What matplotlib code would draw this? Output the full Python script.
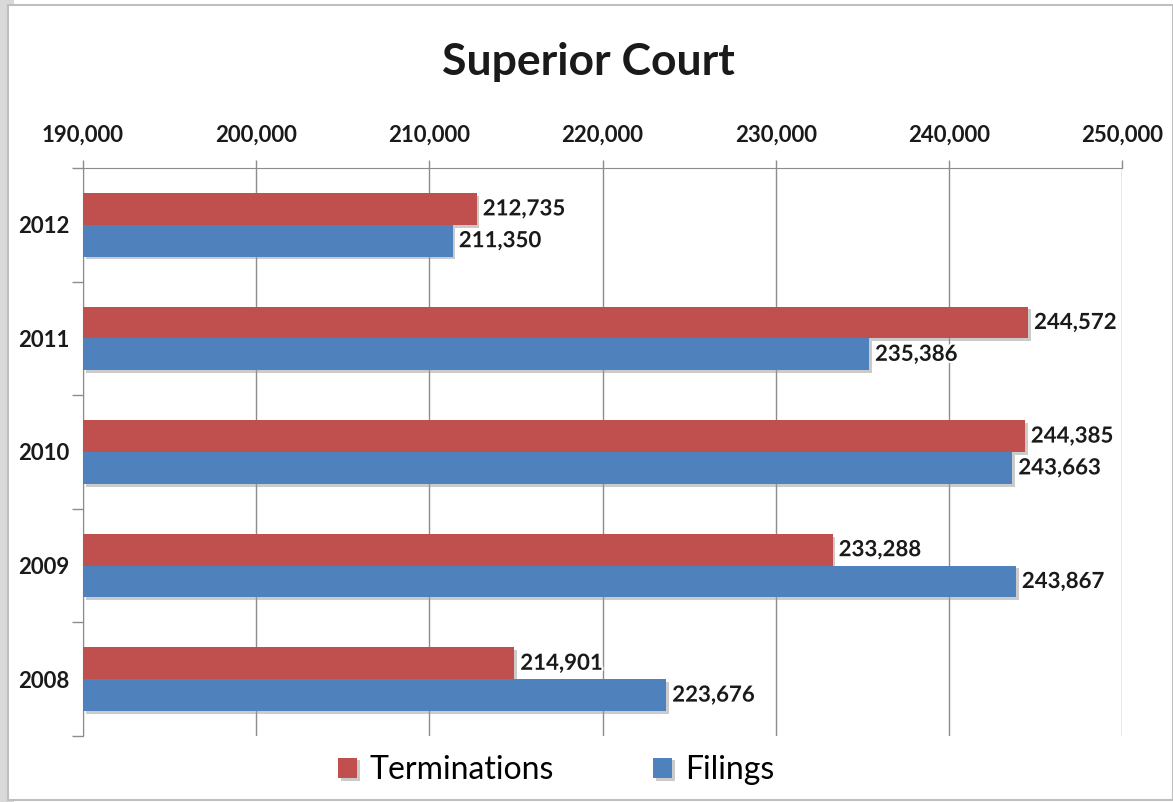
import matplotlib
matplotlib.use("Agg")
import matplotlib.pyplot as plt
import matplotlib.patheffects as pe
from matplotlib.patches import Rectangle
import numpy as np

years = ["2008", "2009", "2010", "2011", "2012"]
terminations = [214901, 233288, 244385, 244572, 212735]
filings = [223676, 243867, 243663, 235386, 211350]
xticks = [190000, 200000, 210000, 220000, 230000, 240000, 250000]

red = "#C0504D"
blue = "#4F81BD"

plt.rcParams['font.family'] = ['Lato', 'DejaVu Sans']

fig = plt.figure(figsize=(11.73, 8.02), dpi=100)
# outer frame with shadow
fig.patches.append(Rectangle((0.0, 0.0), 0.012, 1.0, transform=fig.transFigure,
                             facecolor="#d9d9d9", edgecolor="none", zorder=0))
fig.patches.append(Rectangle((8/1173, 2/802), 1 - 8/1173, 1 - 7/802, transform=fig.transFigure,
                             facecolor="white", edgecolor="#bfbfbf", linewidth=1.5, zorder=1))

ax = fig.add_axes([83/1173, 1 - 736/802, (1122 - 83)/1173, (736 - 168)/802])
ax.set_zorder(2)
ax.patch.set_alpha(0)

y = np.arange(len(years))
h = 0.28
shadow = [pe.SimplePatchShadow(offset=(2, -2), shadow_rgbFace="#999999", alpha=0.5), pe.Normal()]
b1 = ax.barh(y + h/2, [t - 190000 for t in terminations], left=190000, height=h,
             color=red, label="Terminations", zorder=3)
b2 = ax.barh(y - h/2, [f - 190000 for f in filings], left=190000, height=h,
             color=blue, label="Filings", zorder=3)
for b in list(b1) + list(b2):
    b.set_path_effects(shadow)

halo = [pe.withStroke(linewidth=3, foreground="white")]
for yi, v in zip(y, terminations):
    ax.text(v + 350, yi + h/2, f"{v:,}", va="center", ha="left", fontsize=16,
            fontweight="bold", color="#1a1a1a", zorder=5, path_effects=halo)
for yi, v in zip(y, filings):
    ax.text(v + 350, yi - h/2, f"{v:,}", va="center", ha="left", fontsize=16,
            fontweight="bold", color="#1a1a1a", zorder=5, path_effects=halo)

ax.set_xlim(190000, 250000)
ax.set_ylim(-0.5, len(years) - 0.5)
ax.xaxis.tick_top()
ax.set_xticks(xticks)
ax.set_xticklabels([f"{t:,}" for t in xticks], fontsize=16, fontweight="bold", color="#1a1a1a")
ax.tick_params(axis="x", direction="out", length=6, width=1, color="#8c8c8c", pad=10)
ax.set_yticks(y)
ax.set_yticklabels(years, fontsize=16, fontweight="bold", color="#1a1a1a")
ax.set_yticks(np.arange(-0.5, len(years), 1.0), minor=True)
ax.tick_params(axis="y", which="major", length=0, pad=10)
ax.tick_params(axis="y", which="minor", direction="out", length=8, width=1, color="#8c8c8c")
ax.grid(axis="x", color="#8c8c8c", linewidth=1, zorder=0)
ax.set_axisbelow(True)
for s in ["right", "bottom"]:
    ax.spines[s].set_visible(False)
ax.spines["top"].set_color("#8c8c8c")
ax.spines["left"].set_color("#8c8c8c")

fig.text(588/1173, 1 - 62/802, "Superior Court", ha="center", va="center",
         fontsize=32, fontweight="bold", color="#1a1a1a")

handles = [b1, b2]
fig.legend(handles, ["Terminations", "Filings"], loc="center", bbox_to_anchor=(556/1173, 1 - 770/802),
           ncol=2, frameon=False, fontsize=23, handlelength=0.6, handleheight=0.6,
           columnspacing=3.1, handletextpad=0.4)

fig.savefig("out.png", dpi=100)
